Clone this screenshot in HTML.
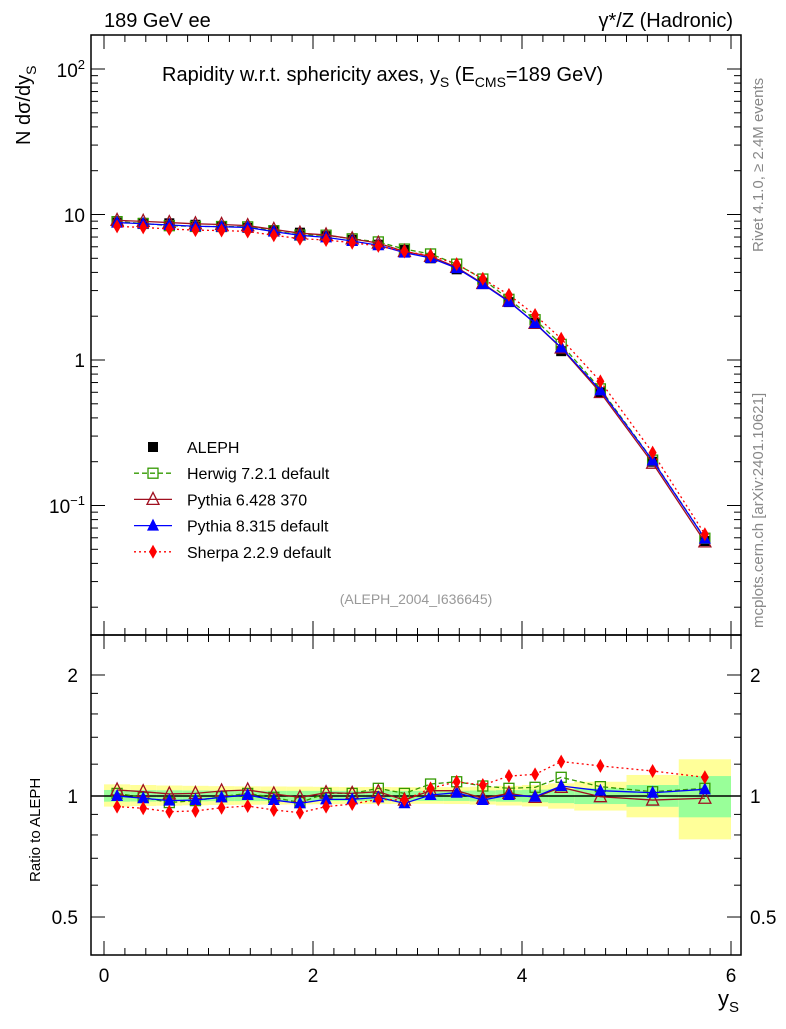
<!DOCTYPE html><html><head><meta charset="utf-8"><style>body{margin:0;background:#fff}svg{font-family:"Liberation Sans",sans-serif}</style></head><body>
<svg id="c" width="786" height="1024" xmlns="http://www.w3.org/2000/svg"></svg>
<script>
const edges=[0,0.25,0.5,0.75,1,1.25,1.5,1.75,2,2.25,2.5,2.75,3,3.25,3.5,3.75,4,4.25,4.5,5,5.5,6];
const aleph=[8.8,8.75,8.7,8.5,8.3,8.1,7.8,7.5,7.1,6.7,6.2,5.7,5.0,4.2,3.4,2.5,1.8,1.15,0.6,0.2,0.057];
const herwigR=[1.015,0.992,0.963,0.974,0.996,1.015,0.992,0.963,1.015,1.015,1.045,1.015,1.071,1.085,1.059,1.045,1.051,1.113,1.055,1.025,1.045];
const py6R=[1.035,1.025,1.012,1.015,1.029,1.035,1.012,0.992,1.019,1.015,1.025,0.977,1.031,1.031,0.987,1.015,0.992,1.051,0.996,0.977,0.987];
const py8R=[1.0,0.987,0.974,0.977,0.992,1.006,0.977,0.959,0.981,0.981,0.992,0.959,1.006,1.019,0.977,1.006,0.996,1.059,1.031,1.019,1.039];
const sherpaR=[0.941,0.932,0.914,0.918,0.935,0.944,0.923,0.909,0.941,0.955,0.981,0.977,1.045,1.085,1.065,1.121,1.132,1.218,1.188,1.154,1.113];
const totUp=[1.069,1.065,1.062,1.06,1.058,1.057,1.056,1.055,1.054,1.053,1.053,1.052,1.052,1.052,1.055,1.06,1.065,1.075,1.085,1.128,1.234];
const totDn=[0.941,0.944,0.946,0.948,0.95,0.951,0.952,0.953,0.954,0.955,0.955,0.956,0.956,0.955,0.952,0.947,0.942,0.93,0.92,0.885,0.78];
const statUp=[1.035,1.034,1.033,1.032,1.031,1.03,1.03,1.03,1.03,1.03,1.03,1.03,1.03,1.03,1.032,1.034,1.037,1.04,1.045,1.065,1.121];
const statDn=[0.968,0.969,0.97,0.97,0.971,0.971,0.972,0.972,0.972,0.972,0.972,0.972,0.972,0.972,0.97,0.968,0.965,0.96,0.955,0.94,0.885];
const xTicks=[0,2,4,6];
const NS="http://www.w3.org/2000/svg",svg=document.getElementById('c');
const X=v=>104+v*104.5, Y=v=>360-145.5*Math.log10(v), R=v=>796-402*Math.log10(v);
function el(t,a,p){const e=document.createElementNS(NS,t);for(const k in a)e.setAttribute(k,a[k]);(p||svg).appendChild(e);return e;}
function tx(x,y,s,sz,anc,fill,name,rot){const e=el('text',{x:x,y:y,'font-size':sz,'text-anchor':anc||'start',fill:fill||'#000'});if(rot)e.setAttribute('transform',`rotate(-90 ${x} ${y})`);e.innerHTML=s;return e;}
const cen=aleph.map((_,i)=>(edges[i]+edges[i+1])/2);
aleph.forEach((_,i)=>{const x0=X(edges[i]),x1=X(edges[i+1]);
const b=el('rect',{x:x0,y:R(totUp[i]),width:x1-x0,height:R(totDn[i])-R(totUp[i]),fill:'#ffff99'});
const g=el('rect',{x:x0,y:R(statUp[i]),width:x1-x0,height:R(statDn[i])-R(statUp[i]),fill:'#99ff99'});});
el('line',{x1:91,x2:741,y1:R(1),y2:R(1),stroke:'#000','stroke-width':1.5});
for(const [y0,y1,n] of [[35,635,'main-frame'],[635,955,'ratio-frame']]){const f=el('rect',{x:91,y:y0,width:650,height:y1-y0,fill:'none',stroke:'#000','stroke-width':1.5});}
for(let d=-2;d<=2;d++)for(let m=1;m<10;m++){const v=m*Math.pow(10,d),y=Y(v);if(y<35||y>635)continue;const L=m==1?14:7;el('line',{x1:91,x2:91+L,y1:y,y2:y,stroke:'#000'});el('line',{x1:741,x2:741-L,y1:y,y2:y,stroke:'#000'});}
tx(85,77,'10<tspan dy="-8" font-size="13">2</tspan>',19,'end',0,'y-tick-100');
tx(85,222,'10',19,'end',0,'y-tick-10');tx(85,367,'1',19,'end',0,'y-tick-1');
tx(85,513,'10<tspan dy="-8" font-size="13">−1</tspan>',19,'end',0,'y-tick-0.1');
[0.5,0.6,0.7,0.8,0.9,1,1.2,1.4,1.6,1.8,2].forEach(v=>{const y=R(v),L=(v==0.5||v==1||v==2)?14:7;el('line',{x1:91,x2:91+L,y1:y,y2:y,stroke:'#000'});el('line',{x1:741,x2:741-L,y1:y,y2:y,stroke:'#000'});});
[[2,'2'],[1,'1'],[0.5,'0.5']].forEach(([v,s])=>{tx(78,R(v)+7,s,19,'end',0,'ratio-tick');tx(750,R(v)+7,s,19,'start',0,'ratio-tick-right');});
for(let v=0;v<=6.05;v+=0.2){const x=X(v),big=Math.abs(v-Math.round(v/2)*2)<0.01;const L=big?14:7;[[35,1],[635,1],[955,-1]].forEach(([y,s])=>{if(y==635){el('line',{x1:x,x2:x,y1:635,y2:635-L,stroke:'#000'});el('line',{x1:x,x2:x,y1:635,y2:635+L,stroke:'#000'});}else el('line',{x1:x,x2:x,y1:y,y2:y+s*L,stroke:'#000'});});}
xTicks.forEach(v=>tx(X(v),982,String(v),19,'middle',0,'x-tick-label'));
function mark(mk,x,y,c,name){let m;
  if(mk=='sq')m=el('rect',{x:x-5,y:y-5,width:10,height:10,fill:'#000'});
  if(mk=='osq')m=el('rect',{x:x-5,y:y-5,width:10,height:10,fill:'none',stroke:c,'stroke-width':1.3});
  if(mk=='otri')m=el('polygon',{points:`${x},${y-7} ${x-6},${y+5} ${x+6},${y+5}`,fill:'none',stroke:c,'stroke-width':1.3});
  if(mk=='tri')m=el('polygon',{points:`${x},${y-7} ${x-6},${y+5} ${x+6},${y+5}`,fill:c});
  if(mk=='dia')m=el('polygon',{points:`${x},${y-7} ${x-4},${y} ${x},${y+7} ${x+4},${y}`,fill:c});
  }
function series(vals,color,dash,marker,name,ratio){
 const pts=vals.map((v,i)=>[X(cen[i]),ratio?R(v):Y(v)]);
 if(color){const p=el('polyline',{points:pts.map(p=>p.join(',')).join(' '),fill:'none',stroke:color,'stroke-width':1.3,'stroke-dasharray':dash||''});}
 pts.forEach(([x,y])=>mark(marker,x,y,color||'#000',name+'-point'));
}
series(aleph,null,null,'sq','aleph');
series(aleph.map((v,i)=>v*herwigR[i]),'#339900','5,3','osq','herwig');
series(aleph.map((v,i)=>v*py6R[i]),'#a01020','','otri','pythia6');
series(aleph.map((v,i)=>v*py8R[i]),'#0000ff','','tri','pythia8');
series(aleph.map((v,i)=>v*sherpaR[i]),'#ff0000','2,3','dia','sherpa');
series(herwigR,'#339900','5,3','osq','herwig-ratio',1);
series(py6R,'#a01020','','otri','pythia6-ratio',1);
series(py8R,'#0000ff','','tri','pythia8-ratio',1);
series(sherpaR,'#ff0000','2,3','dia','sherpa-ratio',1);
const leg=[['ALEPH',null,'','sq'],['Herwig 7.2.1 default','#339900','5,3','osq'],['Pythia 6.428 370','#a01020','','otri'],['Pythia 8.315 default','#0000ff','','tri'],['Sherpa 2.2.9 default','#ff0000','2,3','dia']];
leg.forEach(([s,c,d,mk],i)=>{const y=447+i*26.2,x=153;
 if(c)el('line',{x1:134,x2:172,y1:y,y2:y,stroke:c,'stroke-width':1.3,'stroke-dasharray':d});
 mark(mk,x,y,c||'#000','legend-marker');
 tx(187,y+6,s,16,'start',0,'legend-entry');});
tx(104,27,'189 GeV ee',20,'start',0,'top-left-label');
tx(733,27,'γ*/Z (Hadronic)',20,'end',0,'top-right-label');
tx(162,81,'Rapidity w.r.t. sphericity axes, y<tspan dy="6" font-size="14">S</tspan><tspan dy="-6"> (E</tspan><tspan dy="6" font-size="14">CMS</tspan><tspan dy="-6">=189 GeV)</tspan>',20,'start',0,'plot-title');
tx(416,604,'(ALEPH_2004_I636645)',14,'middle','#999','analysis-id');
tx(30,145,'N  dσ/dy<tspan dy="6" font-size="14">S</tspan>',20,'start',0,'y-axis-title',1);
tx(40,882,'Ratio to ALEPH',15,'start',0,'ratio-axis-title',1);
tx(718,1006,'y<tspan dy="6" font-size="15">S</tspan>',22,'start',0,'x-axis-title');
tx(763,252,'Rivet 4.1.0, ≥ 2.4M events',15,'start','#888','rivet-label',1);
tx(763,628,'mcplots.cern.ch [arXiv:2401.10621]',15,'start','#888','mcplots-label',1);
</script></body></html>
